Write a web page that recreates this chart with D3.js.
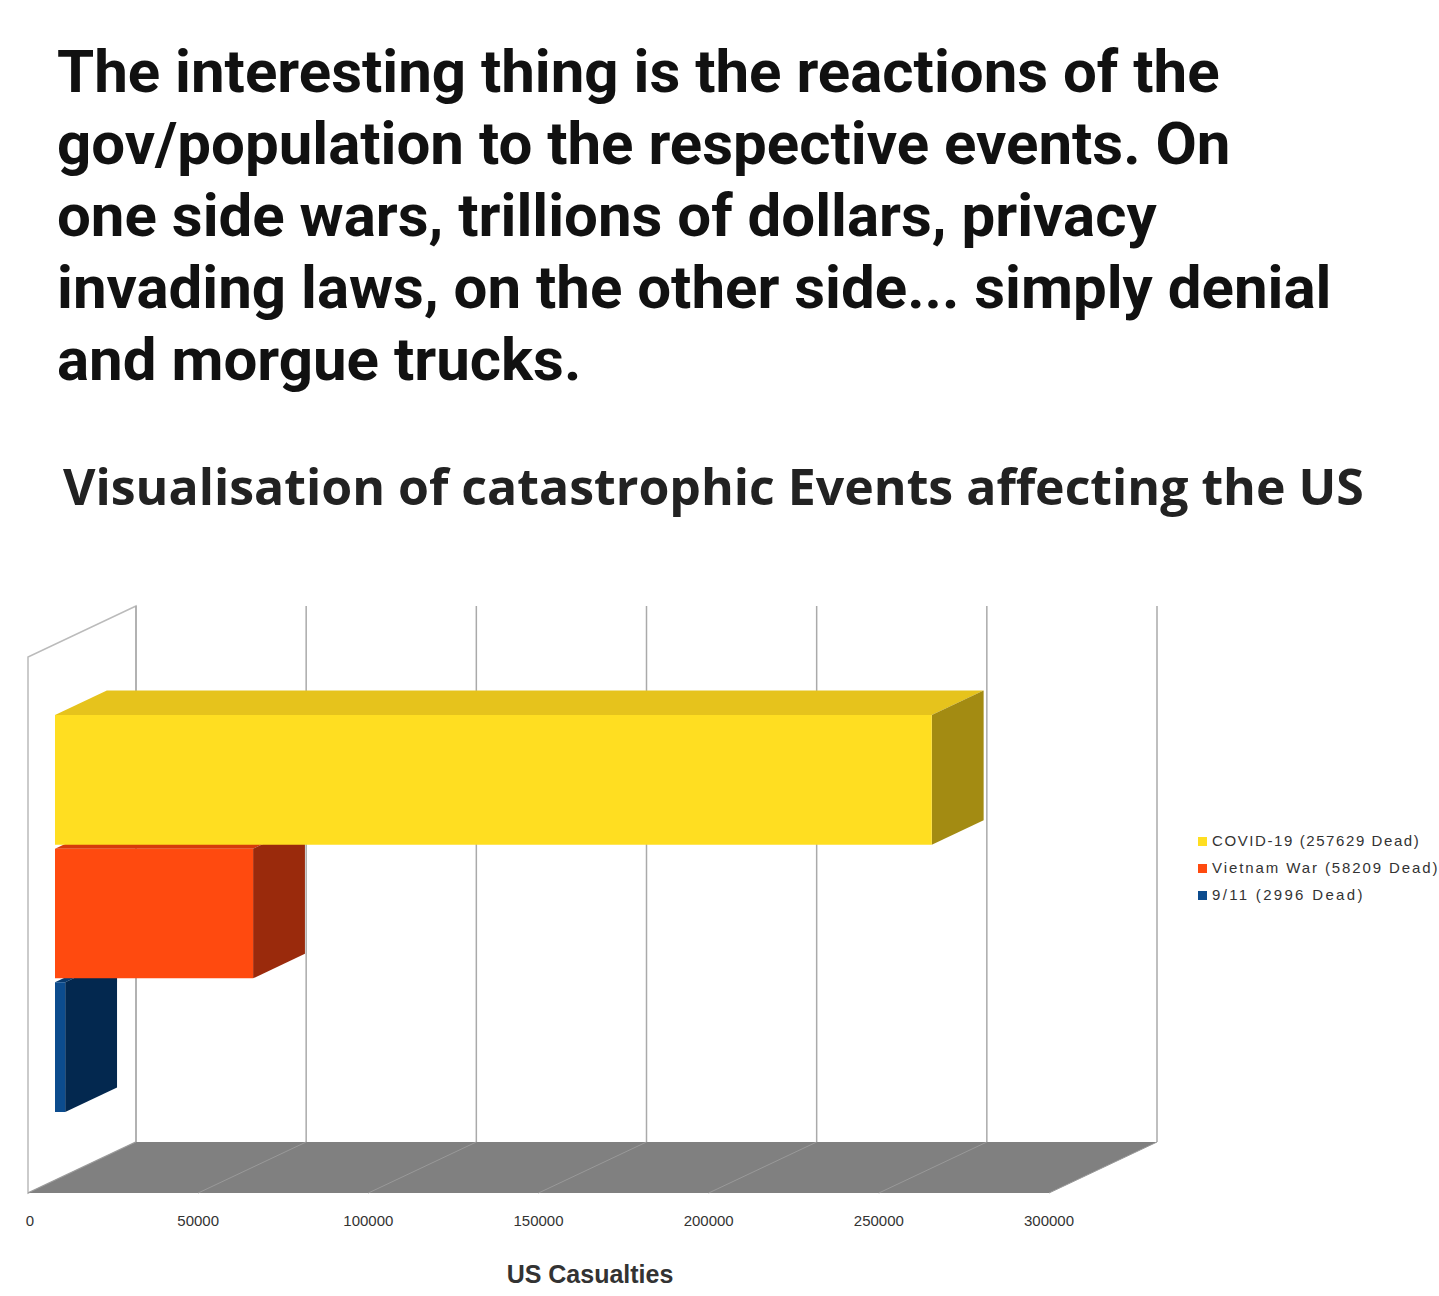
<!DOCTYPE html>
<html><head><meta charset="utf-8">
<script src="https://cdn.jsdelivr.net/npm/d3@7"></script>
<style>body{margin:0;background:#fff}</style>
</head><body>
<script>
var events = ["COVID-19", "Vietnam War", "9/11"];
var deaths = [257629, 58209, 2996];
var legendLabels = ["COVID-19 (257629 Dead)", "Vietnam War (58209 Dead)", "9/11 (2996 Dead)"];
var ticks = [0, 50000, 100000, 150000, 200000, 250000, 300000];
var heading = ["The interesting thing is the reactions of the",
  "gov/population to the respective events. On",
  "one side wars, trillions of dollars, privacy",
  "invading laws, on the other side... simply denial",
  "and morgue trucks."];

var colors = [
  {front: "#ffde21", top: "#e6c31c", side: "#a38b12"},
  {front: "#ff4a0f", top: "#d63a0b", side: "#9a2a0c"},
  {front: "#0c4c8e", top: "#083a6e", side: "#03284f"}
];

var svg = d3.select("body").append("svg").attr("width", 1439).attr("height", 1296)
  .style("font-family", "Roboto, 'Liberation Sans', sans-serif");

svg.selectAll("text.head").data(heading).enter().append("text")
  .attr("x", 57).attr("y", function(d, i) { return 92 + i * 72; })
  .attr("font-size", 60).attr("font-weight", 700).attr("fill", "#111")
  .text(function(d) { return d; });

svg.append("text").attr("x", 63).attr("y", 505).attr("font-size", 50).attr("font-weight", 700)
  .attr("fill", "#222").style("font-family", "'Open Sans', sans-serif")
  .text("Visualisation of catastrophic Events affecting the US");

// 3D geometry: front origin and depth offset
var x = d3.scaleLinear().domain([0, 300000]).range([28, 1049]);
var DX = 108, DY = -51;
var floorY = 1193, wallTop = 657;
function pt(v, y, depth) { return [x(v) + DX * depth, y + DY * depth]; }
function poly(pts) { return pts.map(function(p) { return p.join(","); }).join(" "); }

// left wall
svg.append("polygon").attr("points", poly([pt(0, floorY, 0), pt(0, wallTop, 0), pt(0, wallTop, 1), pt(0, floorY, 1)]))
  .attr("fill", "#fff").attr("stroke", "#bbb").attr("stroke-width", 1.5);
// back gridlines
svg.selectAll("line.grid").data(ticks).enter().append("line")
  .attr("x1", function(d) { return pt(d, 0, 1)[0]; }).attr("x2", function(d) { return pt(d, 0, 1)[0]; })
  .attr("y1", wallTop + DY).attr("y2", floorY + DY)
  .attr("stroke", "#aaa").attr("stroke-width", 1.5);
// floor
svg.append("polygon").attr("points", poly([pt(0, floorY, 0), pt(300000, floorY, 0), pt(300000, floorY, 1), pt(0, floorY, 1)]))
  .attr("fill", "#808080");
svg.selectAll("line.fl").data(ticks).enter().append("line")
  .attr("x1", function(d) { return pt(d, floorY, 0)[0]; }).attr("y1", floorY)
  .attr("x2", function(d) { return pt(d, floorY, 1)[0]; }).attr("y2", floorY + DY)
  .attr("stroke", "#999").attr("stroke-width", 1);

// bars
var d0 = 0.25, d1 = 0.73;
var band = d3.scaleBand().domain(events).range([715 - DY * d0, 1112 - DY * d0]).paddingInner(0.03);
var bars = svg.selectAll("g.bar").data(events).enter().append("g");
bars.each(function(e, i) {
  var g = d3.select(this), v = deaths[i], y0 = band(e), y1 = y0 + band.bandwidth(), c = colors[i];
  g.append("polygon").attr("points", poly([pt(0, y0, d0), pt(v, y0, d0), pt(v, y0, d1), pt(0, y0, d1)])).attr("fill", c.top);
  g.append("polygon").attr("points", poly([pt(v, y0, d0), pt(v, y0, d1), pt(v, y1, d1), pt(v, y1, d0)])).attr("fill", c.side);
  g.append("polygon").attr("points", poly([pt(0, y0, d0), pt(v, y0, d0), pt(v, y1, d0), pt(0, y1, d0)])).attr("fill", c.front);
});
bars.sort(function(a, b) { return events.indexOf(b) - events.indexOf(a); });

// tick labels
svg.selectAll("text.tick").data(ticks).enter().append("text")
  .attr("x", function(d) { return x(d) + (d === 0 ? 2 : 0); }).attr("y", 1226)
  .attr("text-anchor", "middle").attr("font-size", 15).attr("fill", "#333")
  .style("font-family", "'Liberation Sans', sans-serif")
  .text(function(d) { return d; });
svg.append("text").attr("x", 590).attr("y", 1283).attr("text-anchor", "middle")
  .attr("font-size", 25).attr("font-weight", 700).attr("fill", "#333")
  .style("font-family", "'Liberation Sans', sans-serif").text("US Casualties");

// legend
var lg = svg.selectAll("g.lg").data(legendLabels).enter().append("g")
  .attr("transform", function(d, i) { return "translate(1198," + (846 + i * 27) + ")"; });
lg.append("rect").attr("x", 0).attr("y", -9).attr("width", 9).attr("height", 9)
  .attr("fill", function(d, i) { return colors[i].front; });
lg.append("text").attr("x", 14).attr("y", 0).attr("font-size", 15).attr("fill", "#333")
  .attr("textLength", function(d) { return d.length * 9.4; })
  .style("font-family", "'Liberation Sans Narrow', 'Liberation Sans', sans-serif").text(function(d) { return d; });
</script>
</body></html>
